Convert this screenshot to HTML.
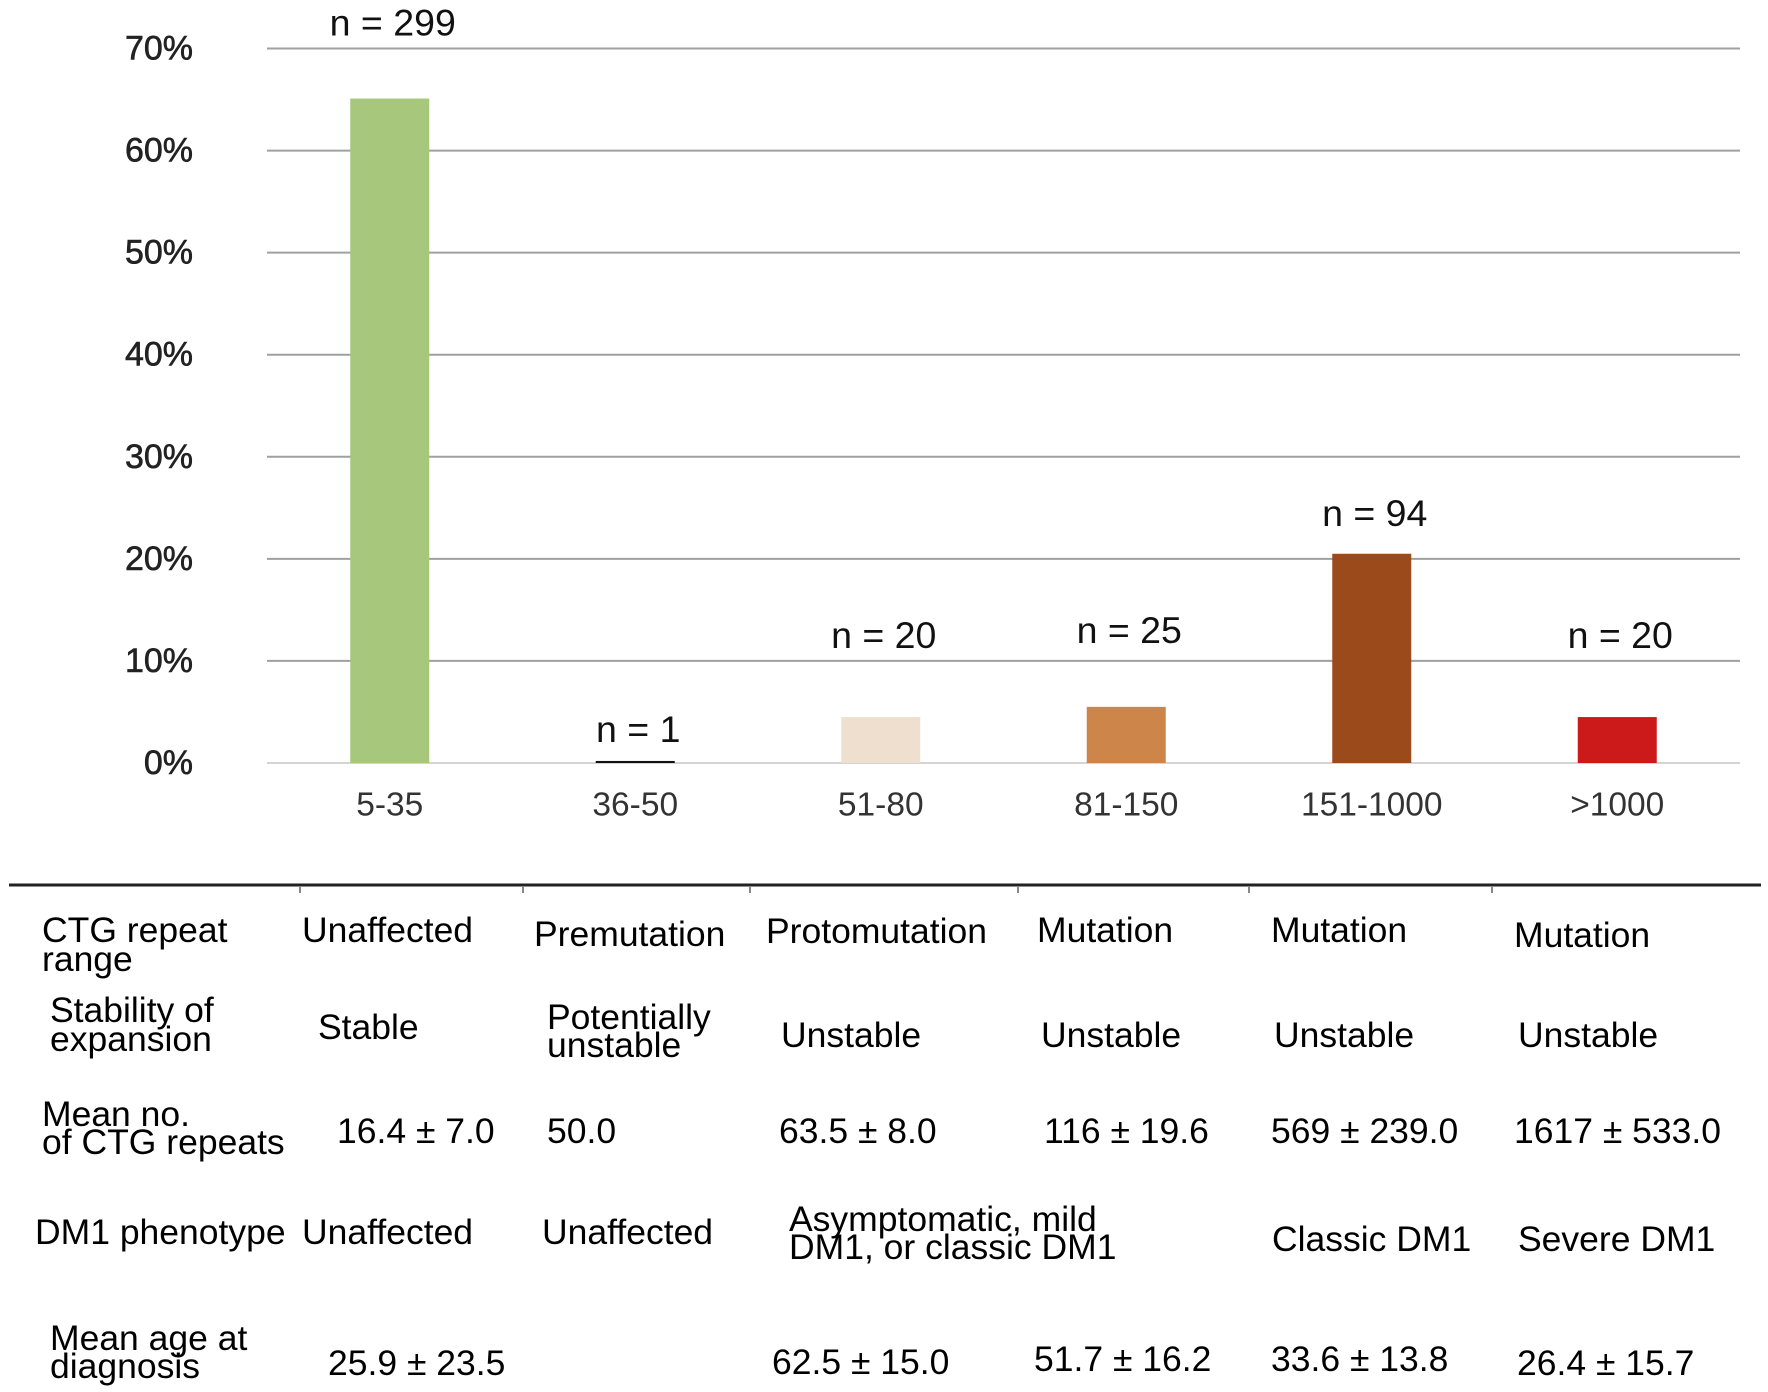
<!DOCTYPE html>
<html><head><meta charset="utf-8"><style>
html,body{margin:0;padding:0;background:#fff;}
svg{display:block;}
.t{font-family:"Liberation Sans",Arial,sans-serif;font-size:35.5px;fill:#000;dominant-baseline:central;}
</style></head><body>
<svg id="chart" width="1768" height="1392" viewBox="0 0 1768 1392">
<g id="grid"></g>
<g id="bars"></g>
<g id="labels"></g>
<line x1="9" y1="885" x2="1761" y2="885" stroke="#222" stroke-width="3"/>
<g stroke="#888" stroke-width="2">
<line x1="300" y1="886" x2="300" y2="893"/><line x1="523" y1="886" x2="523" y2="893"/><line x1="750" y1="886" x2="750" y2="893"/><line x1="1018" y1="886" x2="1018" y2="893"/><line x1="1249" y1="886" x2="1249" y2="893"/><line x1="1492" y1="886" x2="1492" y2="893"/>
</g>
<g>
<text class="t" x="42" y="930">CTG repeat</text>
<text class="t" x="42" y="959">range</text>
<text class="t" x="302" y="930">Unaffected</text>
<text class="t" x="534" y="934">Premutation</text>
<text class="t" x="766" y="931">Protomutation</text>
<text class="t" x="1037" y="930">Mutation</text>
<text class="t" x="1271" y="930">Mutation</text>
<text class="t" x="1514" y="935">Mutation</text>

<text class="t" x="50" y="1010">Stability of</text>
<text class="t" x="50" y="1039">expansion</text>
<text class="t" x="318" y="1027">Stable</text>
<text class="t" x="547" y="1017">Potentially</text>
<text class="t" x="547" y="1045">unstable</text>
<text class="t" x="781" y="1035">Unstable</text>
<text class="t" x="1041" y="1035">Unstable</text>
<text class="t" x="1274" y="1035">Unstable</text>
<text class="t" x="1518" y="1035">Unstable</text>

<text class="t" x="42" y="1114">Mean no.</text>
<text class="t" x="42" y="1142">of CTG repeats</text>
<text class="t" x="337" y="1131">16.4 ± 7.0</text>
<text class="t" x="547" y="1131">50.0</text>
<text class="t" x="779" y="1131">63.5 ± 8.0</text>
<text class="t" x="1044" y="1131">116 ± 19.6</text>
<text class="t" x="1271" y="1131">569 ± 239.0</text>
<text class="t" x="1514" y="1131">1617 ± 533.0</text>

<text class="t" x="35" y="1232">DM1 phenotype</text>
<text class="t" x="302" y="1232">Unaffected</text>
<text class="t" x="542" y="1232">Unaffected</text>
<text class="t" x="789" y="1219">Asymptomatic, mild</text>
<text class="t" x="789" y="1247">DM1, or classic DM1</text>
<text class="t" x="1272" y="1239">Classic DM1</text>
<text class="t" x="1518" y="1239">Severe DM1</text>

<text class="t" x="50" y="1338">Mean age at</text>
<text class="t" x="50" y="1366">diagnosis</text>
<text class="t" x="328" y="1363">25.9 ± 23.5</text>
<text class="t" x="772" y="1362">62.5 ± 15.0</text>
<text class="t" x="1034" y="1359">51.7 ± 16.2</text>
<text class="t" x="1271" y="1359">33.6 ± 13.8</text>
<text class="t" x="1517" y="1363">26.4 ± 15.7</text>
</g>
</svg>
<script>
const categories = ["5-35","36-50","51-80","81-150","151-1000",">1000"];
const percentValues = [65.1, 0.2, 4.5, 5.5, 20.5, 4.5];
const countLabels = ["n = 299","n = 1","n = 20","n = 25","n = 94","n = 20"];
const yTicks = [0,10,20,30,40,50,60,70];
const barColors = ["#a6c77c","#111111","#efdfce","#cd854a","#9a4a1b","#cc1a1a"];

const NS = "http://www.w3.org/2000/svg";
const plotL = 267, plotR = 1740, plotTop = 48.5, plotBot = 763, yMax = 70;
const labelGap = [76, 32, 82, 77, 41, 82];
const band = (plotR - plotL) / categories.length;
function yScale(v){ return plotBot - (v / yMax) * (plotBot - plotTop); }
function xCenter(i){ return plotL + band * (i + 0.5); }
function mk(tag, attrs, parent){ const e = document.createElementNS(NS, tag); for (const k in attrs) e.setAttribute(k, attrs[k]); parent.appendChild(e); return e; }

const grid = document.getElementById("grid");
const bars = document.getElementById("bars");
const labels = document.getElementById("labels");

yTicks.forEach(function(t){
  const y = yScale(t);
  const ln = mk("line", {x1: plotL, x2: plotR, y1: y, y2: y, stroke: t === 0 ? "#d4d4d4" : "#a0a0a0", "stroke-width": 2}, grid);
  
  
  const tx = mk("text", {x: 193, y: y, "text-anchor": "end", "dominant-baseline": "central", "font-family": "Liberation Sans, Arial, sans-serif", "font-size": 34, fill: "#222", "stroke": "#222", "stroke-width": 0.6}, labels);
  tx.textContent = t + "%";
  
  
});

const bw = 79;
categories.forEach(function(c, i){
  const cx = xCenter(i);
  const top = yScale(percentValues[i]);
  const h = Math.max(plotBot - top, 2);
  const r = mk("rect", {x: cx - bw/2, y: plotBot - h, width: bw, height: h, fill: barColors[i]}, bars);
  
  
  const n = mk("text", {x: cx + 3, y: (plotBot - h) - labelGap[i], "text-anchor": "middle", "dominant-baseline": "central", "font-family": "Liberation Sans, Arial, sans-serif", "font-size": 37.5, fill: "#111"}, labels);
  n.textContent = countLabels[i];
  
  
  const cl = mk("text", {x: cx, y: 805, "text-anchor": "middle", "dominant-baseline": "central", "font-family": "Liberation Sans, Arial, sans-serif", "font-size": 33.5, fill: "#333"}, labels);
  cl.textContent = c;
  
  
});
</script>
</body></html>
